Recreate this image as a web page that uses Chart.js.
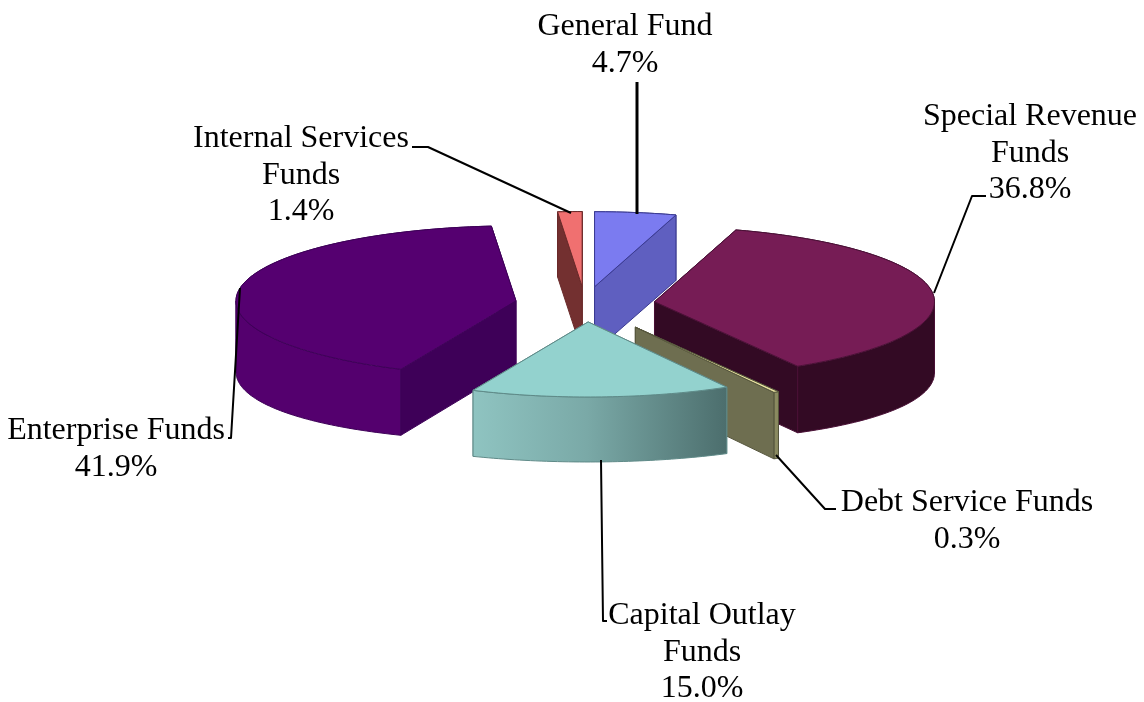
<!DOCTYPE html>
<html>
<head>
<meta charset="utf-8">
<script src="https://cdn.jsdelivr.net/npm/chart.js@4/dist/chart.umd.min.js"></script>
<style>html,body{margin:0;padding:0;background:#fff}canvas{display:block}</style>
</head>
<body>
<canvas id="c" width="1144" height="702"></canvas>
<script>
const categories = ['General Fund','Special Revenue Funds','Debt Service Funds','Capital Outlay Funds','Enterprise Funds','Internal Services Funds'];
const shares = [4.7, 36.8, 0.3, 15.0, 41.9, 1.4];
const labelLines = [['General Fund'],['Special Revenue','Funds'],['Debt Service Funds'],['Capital Outlay','Funds'],['Enterprise Funds'],['Internal Services','Funds']];

const topColors  = ['#7b7bf0','#761c55','#e8e0a0','#93d2ce','#550070','#f07070'];
const rimColors  = ['#5f5fc0','#330a24','#8a8a60',null,'#54006e','#733030'];
const cutColors  = ['#5f5fc0','#330a24','#6e6e50','#5d8583','#3e0058','#733030'];
const edgeColors = ['#3a3a90','#4a1036','#55553c','#5f8a88','#3e0058','#6a2a2a'];
const explode = [65, 70, 100, 67, 70, 65];
const squash = 0.268, baseDepth = 65;

const labelAnchors = [[625,35],[1030,125],[967,511],[702,624],[116,439],[301,147]];
const leaders = [
  {w:3,p:[[637,82],[637,214]]},
  {w:2,p:[[412,147],[428,147],[571,213]]},
  {w:2,p:[[986,196],[972,196],[934,293]]},
  {w:2,p:[[228,438],[231,438],[240,288]]},
  {w:2,p:[[836,509],[825,509],[776,455]]},
  {w:2,p:[[607,621],[603,621],[601,460]]}
];
const paintOrder = [5,0,1,4,2,3];

const pie3d = {
  id:'pie3d',
  beforeDatasetDraw(chart){
    const ctx = chart.ctx, arcs = chart.getDatasetMeta(0).data;
    const poly = (pts,fill,stroke)=>{
      ctx.beginPath();
      pts.forEach((q,i)=> i?ctx.lineTo(q[0],q[1]):ctx.moveTo(q[0],q[1]));
      ctx.closePath();
      ctx.fillStyle=fill; ctx.fill();
      ctx.strokeStyle=stroke; ctx.lineWidth=1; ctx.stroke();
    };
    paintOrder.forEach(i=>{
      const el = arcs[i];
      const a0 = el.startAngle, a1 = el.endAngle, mid=(a0+a1)/2, r = el.outerRadius;
      const ox = el.x + explode[i]*Math.cos(mid), oy = el.y + explode[i]*squash*Math.sin(mid);
      const P = a=>[ox+r*Math.cos(a), oy+r*squash*Math.sin(a)];
      const rimDepth = a=> baseDepth + 6*Math.cos(a)*Math.cos(a);
      const B = a=>{const q=P(a);return [q[0],q[1]+rimDepth(a)];};
      const span = (u,v)=>{const n=Math.max(4,Math.ceil((v-u)/0.02)),o=[];for(let k=0;k<=n;k++)o.push(u+(v-u)*k/n);return o;};
      const rim = span(a0,a1);
      const tip=[ox,oy], tipB=[ox,oy+baseDepth];
      const wall = a=>[tip,P(a),B(a),tipB];
      const startFront = Math.cos(a0) < 0, endFront = Math.cos(a1) > 0;
      // cut faces turned away from the viewer
      if(!startFront) poly(wall(a0),cutColors[i],edgeColors[i]);
      if(!endFront) poly(wall(a1),cutColors[i],edgeColors[i]);
      // outer wall, split where the rim folds; the far part is painted first
      let fill = rimColors[i];
      if(!fill){
        const g = ctx.createLinearGradient(P(a1)[0],0,P(a0)[0],0);
        g.addColorStop(0,'#8fc4c1'); g.addColorStop(0.45,'#7aa9a7'); g.addColorStop(1,'#4c6e6d');
        fill=g;
      }
      const cuts = [a0].concat([0,Math.PI].filter(a=>a>a0&&a<a1),[a1]);
      const parts = [];
      for(let k=0;k<cuts.length-1;k++) parts.push([cuts[k],cuts[k+1]]);
      parts.sort((p,q)=>Math.sin((p[0]+p[1])/2)-Math.sin((q[0]+q[1])/2));
      parts.forEach(p=>{
        const part = span(p[0],p[1]);
        poly(part.map(P).concat(part.slice().reverse().map(B)),fill,edgeColors[i]);
      });
      // cut faces turned towards the viewer
      if(startFront) poly(wall(a0),cutColors[i],edgeColors[i]);
      if(endFront) poly(wall(a1),cutColors[i],edgeColors[i]);
      // top face
      poly([tip].concat(rim.map(P)),topColors[i],edgeColors[i]);
    });
    return false;
  },
  afterDatasetsDraw(chart){
    const ctx = chart.ctx;
    ctx.save();
    ctx.strokeStyle='#000'; ctx.lineJoin='round';
    leaders.forEach(l=>{
      ctx.lineWidth=l.w; ctx.beginPath();
      l.p.forEach((q,i)=> i?ctx.lineTo(q[0],q[1]):ctx.moveTo(q[0],q[1]));
      ctx.stroke();
    });
    ctx.fillStyle='#000'; ctx.font='32px "Liberation Serif"'; ctx.textAlign='center'; ctx.textBaseline='alphabetic';
    labelLines.forEach((lines,i)=>{
      const all = lines.concat([shares[i].toFixed(1)+'%']);
      all.forEach((t,k)=>ctx.fillText(t,labelAnchors[i][0],labelAnchors[i][1]+k*36.5));
    });
    ctx.restore();
  }
};

new Chart(document.getElementById('c'),{
  type:'pie',
  data:{labels:categories,datasets:[{data:shares,backgroundColor:topColors,borderWidth:0}]},
  options:{
    responsive:false,animation:false,radius:280,
    layout:{padding:{left:26,bottom:94}},
    plugins:{legend:{display:false},tooltip:{enabled:false},title:{display:false}}
  },
  plugins:[pie3d]
});
</script>
</body>
</html>
